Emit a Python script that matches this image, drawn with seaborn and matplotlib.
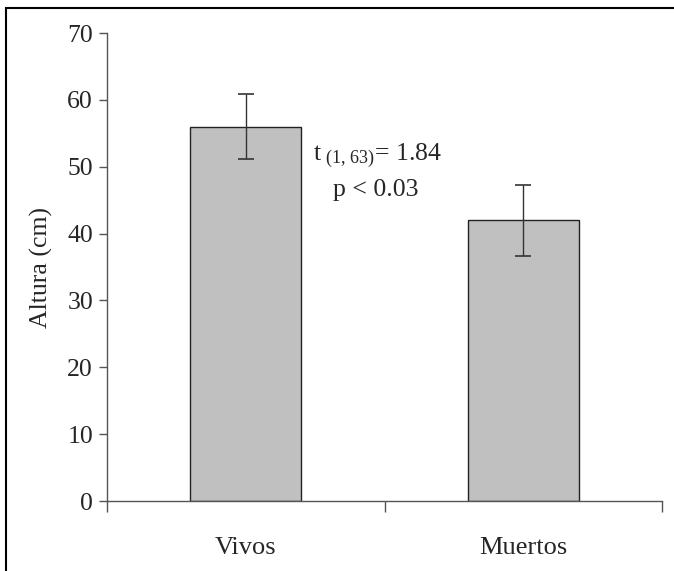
import numpy as np
import pandas as pd
import matplotlib
matplotlib.use("Agg")
import matplotlib.pyplot as plt
import seaborn as sns

grupos = ["Vivos", "Muertos"]
altura = [56, 42]
error = [4.9, 5.3]

df = pd.DataFrame({"grupo": grupos, "altura": altura})

sns.set_style("white")
plt.rcParams["font.family"] = ["Liberation Serif", "DejaVu Serif"]
plt.rcParams["mathtext.fontset"] = "custom"
plt.rcParams["mathtext.rm"] = "Liberation Serif"
plt.rcParams["mathtext.it"] = "Liberation Serif"

fig = plt.figure(figsize=(6.74, 5.71), dpi=100)
ax = fig.add_axes([107 / 674, 1 - 501 / 571, (662 - 107) / 674, (501 - 33) / 571])

sns.barplot(data=df, x="grupo", y="altura", color="#c0c0c0", width=0.4,
            edgecolor="#222222", linewidth=1.0, saturation=1, errorbar=None, ax=ax)
ax.errorbar(np.arange(len(grupos)), altura, yerr=error, fmt="none",
            ecolor="#333333", elinewidth=1.0, capsize=6, capthick=1.2)

ax.set_xlim(-0.5, 1.5)
ax.set_ylim(0, 70)
ax.set_yticks(np.arange(0, 71, 10))
ax.set_xticks([0, 1])
ax.set_xticks([-0.5, 0.5, 1.5], minor=True)
ax.tick_params(axis="x", which="major", bottom=True, length=0, pad=26, labelsize=19)
ax.tick_params(axis="x", which="minor", bottom=True, length=8, width=1, color="#555555", direction="out")
ax.tick_params(axis="y", left=True, length=6, width=1, color="#555555", direction="out", labelsize=18.5, pad=4)
ax.set_xlabel("")
ax.set_ylabel("Altura (cm)", fontsize=18.5, labelpad=10)

for s in ["top", "right"]:
    ax.spines[s].set_visible(False)
for s in ["left", "bottom"]:
    ax.spines[s].set_color("#555555")
    ax.spines[s].set_linewidth(1.0)

ax.text(0.242, 51.7, r"t$_{\mathrm{\ (1,\,63)}}$= 1.84", fontsize=18.5, ha="left", va="center")
ax.text(0.468, 46.5, "p < 0.03", fontsize=18.5, ha="center", va="center")

# marco exterior
fig.patches.append(plt.Rectangle((5.5 / 674, -0.02), 1.05, 1 - 8 / 571 + 0.02,
                                 transform=fig.transFigure, fill=False,
                                 edgecolor="black", linewidth=1.5))

fig.savefig("out.png", dpi=100)
